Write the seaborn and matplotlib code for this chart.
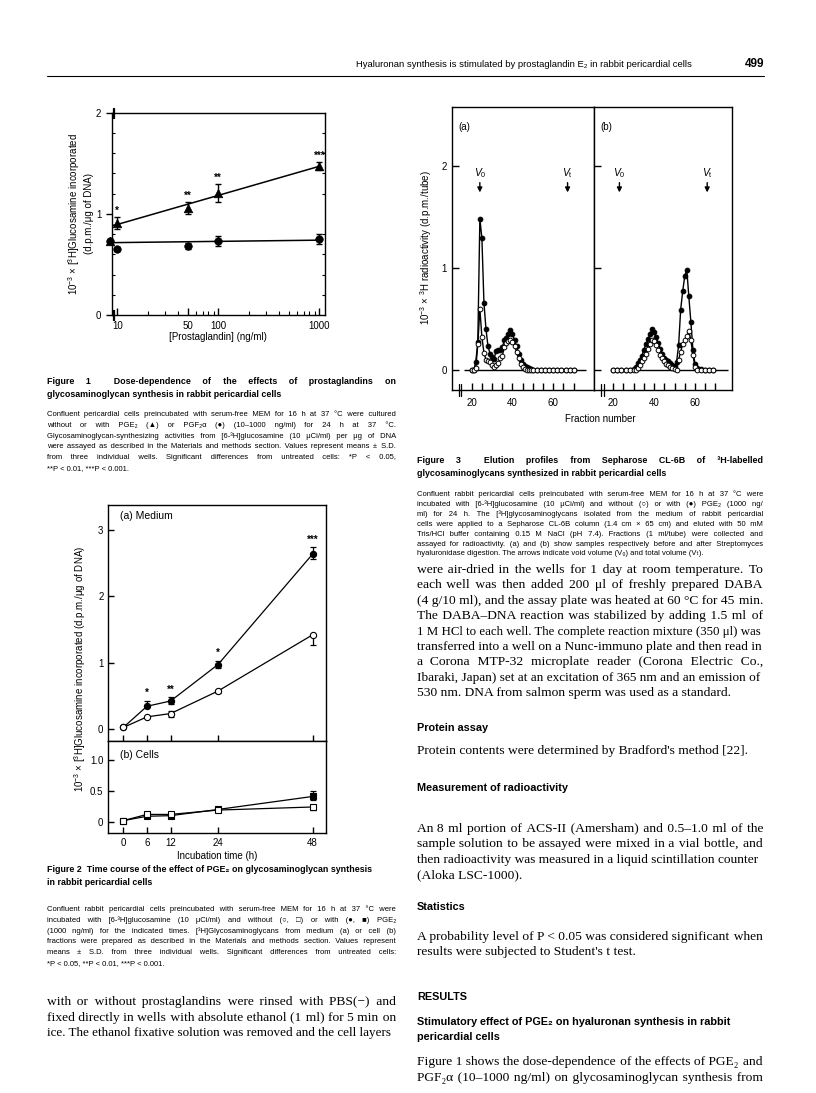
import matplotlib
matplotlib.use('Agg')
import matplotlib.pyplot as plt
from matplotlib import font_manager as fm
from matplotlib.ft2font import FT2Font
from matplotlib.ticker import FixedLocator, MultipleLocator, NullFormatter
import seaborn as sns

# ---------------- Figure 1: dose dependence ----------------
dose = [10, 50, 100, 1000]
pge2_dose = [0.91, 1.06, 1.21, 1.47]
pge2_dose_sd = [0.06, 0.06, 0.09, 0.04]
pgf2a_dose = [0.65, 0.68, 0.73, 0.75]
pgf2a_dose_sd = [0.02, 0.03, 0.05, 0.05]
dose_stars = ['*', '**', '**', '***']
untreated_x = 8.4
untreated_y = 0.73
pge2_fit_x = [8.4, 8.9, 8.9, 10, 1000]
pge2_fit_y = [0.73, 0.73, 0.885, 0.895, 1.47]
pgf2a_fit_x = [8.4, 1000]
pgf2a_fit_y = [0.715, 0.74]

# ---------------- Figure 2: time course ----------------
hours = [0, 6, 12, 24, 48]
med_pge2 = [0.02, 0.34, 0.42, 0.97, 2.64]
med_pge2_lo = [0, 0, 0.05, 0.05, 0.08]
med_pge2_hi = [0, 0.08, 0.06, 0.06, 0.10]
med_ctrl = [0.02, 0.18, 0.23, 0.57, 1.42]
med_ctrl_lo = [0, 0, 0.05, 0.03, 0.16]
med_ctrl_hi = [0, 0, 0.04, 0.02, 0]
med_stars = ['', '*', '**', '*', '***']
cell_pge2 = [0.02, 0.09, 0.10, 0.20, 0.41]
cell_pge2_lo = [0, 0, 0, 0, 0.05]
cell_pge2_hi = [0, 0.02, 0.02, 0.02, 0.08]
cell_ctrl = [0.02, 0.12, 0.12, 0.19, 0.24]
cell_ctrl_lo = [0, 0, 0.01, 0.01, 0.05]
cell_ctrl_hi = [0, 0, 0.01, 0.01, 0.03]

# ---------------- Figure 3: elution profiles ----------------
frac_a = list(range(20, 50)) + list(range(50, 71, 2))
before_pge2 = [0, 0, 0.08, 0.27, 1.48, 1.29, 0.66, 0.40, 0.23, 0.16,
               0.13, 0.11, 0.19, 0.20, 0.20, 0.22, 0.29, 0.31, 0.35, 0.39,
               0.35, 0.29, 0.23, 0.16, 0.10, 0.06, 0.04, 0.03, 0.02, 0.01,
               0, 0, 0, 0, 0, 0, 0, 0, 0, 0, 0]
before_ctrl = [0, 0, 0.02, 0.25, 0.60, 0.32, 0.17, 0.10, 0.09, 0.08,
               0.05, 0.03, 0.05, 0.07, 0.12, 0.14, 0.22, 0.26, 0.28, 0.29,
               0.27, 0.23, 0.18, 0.12, 0.06, 0.03, 0.01, 0, 0, 0,
               0, 0, 0, 0, 0, 0, 0, 0, 0, 0, 0]
frac_b = [20, 22, 24, 26, 28] + list(range(30, 62)) + [63, 65, 67, 69]
after_pge2 = [0, 0, 0, 0, 0,
              0.01, 0.03, 0.07, 0.10, 0.14, 0.20, 0.25, 0.30, 0.35, 0.40,
              0.37, 0.32, 0.26, 0.21, 0.16, 0.12, 0.10, 0.09, 0.07, 0.05,
              0.03, 0.08, 0.24, 0.59, 0.77, 0.92, 0.98, 0.72, 0.47, 0.20,
              0.06, 0.02,
              0.01, 0, 0, 0]
after_ctrl = [0, 0, 0, 0, 0,
              0, 0, 0.02, 0.05, 0.09, 0.12, 0.16, 0.21, 0.25, 0.29,
              0.28, 0.24, 0.20, 0.15, 0.12, 0.09, 0.06, 0.05, 0.03, 0.02,
              0.01, 0, 0.10, 0.18, 0.25, 0.29, 0.33, 0.38, 0.29, 0.15,
              0.03, 0,
              0, 0, 0, 0]
v0_frac = [24, 23]
vt_frac = [67, 66]

sns.set_theme(style='ticks')
SANS = ['Liberation Sans', 'DejaVu Sans']
SERIF = ['Liberation Serif', 'DejaVu Serif']
plt.rcParams['font.family'] = SANS
plt.rcParams['mathtext.fontset'] = 'custom'
plt.rcParams['mathtext.rm'] = 'Liberation Sans'
plt.rcParams['mathtext.it'] = 'Liberation Sans:italic'
plt.rcParams['mathtext.bf'] = 'Liberation Sans:bold'
plt.rcParams['axes.linewidth'] = 1.0
plt.rcParams['axes.edgecolor'] = 'black'
plt.rcParams['text.color'] = 'black'
plt.rcParams['xtick.color'] = 'black'
plt.rcParams['ytick.color'] = 'black'

W, H = 816, 1093
L0, L1 = 47, 396      # left column
R0, R1 = 417, 763     # right column
CAP = 5.5             # caption body size
CAPT = 6.4            # caption title size
BODY = 9.7            # serif body size
HEAD = 7.8            # section heading size

fig = plt.figure(figsize=(W / 100, H / 100), dpi=100)
fig.patch.set_facecolor('white')


def fx(px):
    return px / W


def fy(py):
    return 1 - py / H


def box(l, t, r, b):
    return [fx(l), fy(b), (r - l) / W, (b - t) / H]


def has_glyph(ch, families):
    for fam in families:
        try:
            path = fm.findfont(fm.FontProperties(family=fam), fallback_to_default=False)
            if FT2Font(path).get_char_index(ord(ch)):
                return True
        except Exception:
            pass
    return False


PAD = None
for ch in ['\u200a', '\u2009', '\u2006']:
    if has_glyph(ch, ['Liberation Serif', 'DejaVu Serif']) and has_glyph(ch, ['Liberation Sans', 'DejaVu Sans']):
        PAD = ch
        break
VT = 'V\u209c' if has_glyph('\u209c', SANS) else 'Vt'

renderer = fig.canvas.get_renderer()
_pad_cache = {}


def pad_width(size, family, weight):
    key = (round(size, 3), tuple(family), weight)
    if key not in _pad_cache:
        t1 = fig.text(0, 0, 'x' + PAD * 20 + 'x', fontsize=size, family=family, fontweight=weight)
        t2 = fig.text(0, 0, 'xx', fontsize=size, family=family, fontweight=weight)
        w = (t1.get_window_extent(renderer).width - t2.get_window_extent(renderer).width) / 20
        t1.remove()
        t2.remove()
        _pad_cache[key] = w
    return _pad_cache[key]


def put_line(x0, x1, base, line, justify, size, family, weight='normal'):
    t = fig.text(fx(x0), fy(base), line, fontsize=size, family=family, fontweight=weight,
                 va='baseline', ha='left')
    w0 = t.get_window_extent(renderer).width
    if w0 > x1 - x0:
        # a touch too long for the column: shrink this line slightly
        size = size * (x1 - x0) / w0 * 0.997
        t.set_fontsize(size)
        return t
    if justify and PAD and ' ' in line:
        pw = pad_width(size, family, weight)
        units = int(round((x1 - x0 - w0) / pw)) if pw > 0 else 0
        if units > 0:
            parts = line.split(' ')
            n = len(parts) - 1
            out = parts[0]
            for i in range(n):
                k = (units * (i + 1)) // n - (units * i) // n
                out += ' ' + PAD * k + parts[i + 1]
            t.set_text(out)
    return t


def put_par(x0, x1, base, step, lines, size, family, weight='normal', last_full=False):
    for i, ln in enumerate(lines):
        last = (i == len(lines) - 1) and not last_full
        put_line(x0, x1, base + i * step, ln, not last, size, family, weight)


# ---------------- running header ----------------
fig.text(fx(692), fy(67), 'Hyaluronan synthesis is stimulated by prostaglandin E₂ in rabbit pericardial cells',
         ha='right', va='baseline', fontsize=6.8, family=SANS)
fig.text(fx(764), fy(67), '499', ha='right', va='baseline', fontsize=8.5, family=SANS, fontweight='bold')
fig.add_artist(plt.Line2D([fx(47), fx(764)], [fy(76), fy(76)], color='black', lw=0.8))

# ---------------- Figure 1 ----------------
ax1 = fig.add_axes(box(111.7, 112.7, 325, 315))
ax1.set_xscale('log')
sns.lineplot(x=pge2_fit_x, y=pge2_fit_y, ax=ax1, color='black', lw=1.1, sort=False, estimator=None)
sns.lineplot(x=pgf2a_fit_x, y=pgf2a_fit_y, ax=ax1, color='black', lw=1.1, sort=False, estimator=None)
ax1.errorbar(dose, pge2_dose, yerr=pge2_dose_sd, fmt='none', ecolor='black', elinewidth=1, capsize=2.5, capthick=1)
ax1.errorbar(dose, pgf2a_dose, yerr=pgf2a_dose_sd, fmt='none', ecolor='black', elinewidth=1, capsize=2.5, capthick=1)
sns.scatterplot(x=dose, y=pge2_dose, marker='^', s=38, color='black', edgecolor='black', ax=ax1, zorder=3)
sns.scatterplot(x=dose, y=pgf2a_dose, marker='o', s=30, color='black', edgecolor='black', ax=ax1, zorder=3)
sns.scatterplot(x=[untreated_x], y=[untreated_y], marker='o', s=30, color='black', edgecolor='black',
                ax=ax1, zorder=3, clip_on=False)
sns.scatterplot(x=[untreated_x], y=[untreated_y], marker='^', s=38, color='black', edgecolor='black',
                ax=ax1, zorder=3, clip_on=False)
for d, v, e, st in zip(dose, pge2_dose, pge2_dose_sd, dose_stars):
    ax1.text(d, v + e + 0.01, st, ha='center', va='bottom', fontsize=7, fontweight='bold')
ax1.set_xlim(8.8, 1140)
ax1.set_ylim(0, 2)
ax1.xaxis.set_major_locator(FixedLocator(dose))
ax1.set_xticklabels(['10', '50', '100', '1000'])
ax1.xaxis.set_minor_locator(FixedLocator([20, 30, 40, 60, 70, 80, 90, 200, 300, 400, 500, 600, 700, 800, 900]))
ax1.xaxis.set_minor_formatter(NullFormatter())
ax1.tick_params(axis='x', which='major', direction='in', length=5, width=1, labelsize=7, pad=4)
ax1.tick_params(axis='x', which='minor', direction='in', length=3, width=0.8)
ax1.set_yticks([0, 1, 2])
ax1.set_yticklabels(['0', '1', '2'])
ax1.yaxis.set_minor_locator(MultipleLocator(0.2))
ax1.tick_params(axis='y', which='major', direction='out', length=4, width=1, labelsize=7)
ax1.tick_params(axis='y', which='minor', direction='in', length=2.5, width=0.8, right=True)
bt = ax1.get_xaxis_transform()
for xb in [9.05, 9.35]:
    ax1.plot([xb, xb], [-0.025, 0.025], transform=bt, color='black', lw=0.9, clip_on=False)
    ax1.plot([xb, xb], [0.975, 1.025], transform=bt, color='black', lw=0.9, clip_on=False)
ax1.set_xlabel('')
ax1.set_ylabel('')
fig.text(fx(80), fy(214), '10$^{-3}$ × [$^3$H]Glucosamine incorporated\n(d.p.m./μg of DNA)',
         rotation=90, ha='center', va='center', fontsize=7, multialignment='center', linespacing=1.35)
fig.text(fx(218), fy(337), '[Prostaglandin] (ng/ml)', ha='center', va='center', fontsize=7)

put_par(L0, L1, 384, 13, ['Figure 1  Dose-dependence of the effects of prostaglandins on',
                          'glycosaminoglycan synthesis in rabbit pericardial cells'], CAPT, SANS, 'bold')
put_par(L0, L1, 416, 10.8, [
    'Confluent pericardial cells preincubated with serum-free MEM for 16 h at 37 °C were cultured',
    'without or with PGE₂ (▲) or PGF₂α (●) (10–1000 ng/ml) for 24 h at 37 °C.',
    'Glycosaminoglycan-synthesizing activities from [6-³H]glucosamine (10 μCi/ml) per μg of DNA',
    'were assayed as described in the Materials and methods section. Values represent means ± S.D.',
    'from three individual wells. Significant differences from untreated cells: *P < 0.05,',
    '**P < 0.01, ***P < 0.001.'], CAP, SANS)

# ---------------- Figure 2 ----------------
ax2a = fig.add_axes(box(108.3, 505, 325.7, 740.7))
ax2b = fig.add_axes(box(108.3, 740.7, 325.7, 833))


def err_bars(ax, x, y, lo, hi):
    idx = [i for i in range(len(x)) if lo[i] + hi[i] > 0]
    ax.errorbar([x[i] for i in idx], [y[i] for i in idx],
                yerr=[[lo[i] for i in idx], [hi[i] for i in idx]],
                fmt='none', ecolor='black', elinewidth=0.9, capsize=2.2, capthick=0.9, zorder=2)


err_bars(ax2a, hours, med_pge2, med_pge2_lo, med_pge2_hi)
err_bars(ax2a, hours, med_ctrl, med_ctrl_lo, med_ctrl_hi)
sns.lineplot(x=hours, y=med_pge2, ax=ax2a, color='black', lw=0.9, marker='o', markersize=4.5,
             markerfacecolor='black', markeredgecolor='black', mew=0.8)
sns.lineplot(x=hours, y=med_ctrl, ax=ax2a, color='black', lw=0.9, marker='o', markersize=4.5,
             markerfacecolor='white', markeredgecolor='black', mew=0.8)
for h, v, e, st in zip(hours, med_pge2, med_pge2_hi, med_stars):
    if st:
        ax2a.text(h, v + e + 0.04, st, ha='center', va='bottom', fontsize=7, fontweight='bold')

err_bars(ax2b, hours, cell_pge2, cell_pge2_lo, cell_pge2_hi)
err_bars(ax2b, hours, cell_ctrl, cell_ctrl_lo, cell_ctrl_hi)
sns.lineplot(x=hours, y=cell_pge2, ax=ax2b, color='black', lw=0.9, marker='s', markersize=4,
             markerfacecolor='black', markeredgecolor='black', mew=0.8)
sns.lineplot(x=hours, y=cell_ctrl, ax=ax2b, color='black', lw=0.9, marker='s', markersize=4,
             markerfacecolor='white', markeredgecolor='black', mew=0.8)

for ax in (ax2a, ax2b):
    ax.set_xlim(-3.8, 51.3)
    ax.set_xticks(hours)
    ax.tick_params(axis='both', direction='in', length=4, width=1, labelsize=7)
    ax.set_xlabel('')
    ax.set_ylabel('')
ax2a.set_ylim(-0.18, 3.38)
ax2a.set_yticks([0, 1, 2, 3])
ax2a.set_xticklabels([])
ax2b.set_ylim(-0.18, 1.31)
ax2b.set_yticks([0, 0.5, 1.0])
ax2b.set_yticklabels(['0', '0.5', '1.0'])
ax2b.set_xticklabels([str(h) for h in hours])
ax2a.text(0.054, 0.955, '(a) Medium', transform=ax2a.transAxes, ha='left', va='center', fontsize=7.5)
ax2b.text(0.054, 0.85, '(b) Cells', transform=ax2b.transAxes, ha='left', va='center', fontsize=7.5)
fig.text(fx(80), fy(669), '10$^{-3}$ × [$^3$H]Glucosamine incorporated (d.p.m./μg of DNA)',
         rotation=90, ha='center', va='center', fontsize=7)
fig.text(fx(217), fy(856), 'Incubation time (h)', ha='center', va='center', fontsize=7)

put_line(L0, L1, 872, 'Figure 2  Time course of the effect of PGE₂ on glycosaminoglycan synthesis',
         False, CAPT, SANS, 'bold')
put_line(L0, L1, 885, 'in rabbit pericardial cells', False, CAPT, SANS, 'bold')
put_par(L0, L1, 911, 10.8, [
    'Confluent rabbit pericardial cells preincubated with serum-free MEM for 16 h at 37 °C were',
    'incubated with [6-³H]glucosamine (10 μCi/ml) and without (○, □) or with (●, ■) PGE₂',
    '(1000 ng/ml) for the indicated times. [³H]Glycosaminoglycans from medium (a) or cell (b)',
    'fractions were prepared as described in the Materials and methods section. Values represent',
    'means ± S.D. from three individual wells. Significant differences from untreated cells:',
    '*P < 0.05, **P < 0.01, ***P < 0.001.'], CAP, SANS)

put_par(L0, L1, 1005, 15.5, [
    'with or without prostaglandins were rinsed with PBS(−) and',
    'fixed directly in wells with absolute ethanol (1 ml) for 5 min on',
    'ice. The ethanol fixative solution was removed and the cell layers'], BODY, SERIF, last_full=True)

# ---------------- Figure 3 ----------------
ax3a = fig.add_axes(box(451.7, 107.3, 594.3, 390))
ax3b = fig.add_axes(box(594.3, 107.3, 731.7, 390))
panels = [(ax3a, frac_a, before_pge2, before_ctrl, '(a)', (10.2, 80.1), (16, 76), [13.6, 15.0]),
          (ax3b, frac_b, after_pge2, after_ctrl, '(b)', (10.7, 78.0), (19, 76), [14.0, 15.4])]
for i, (ax, fr, filled, hollow, lab, xl, base, brk) in enumerate(panels):
    ax.hlines(0, base[0], base[1], color='black', lw=1.0, zorder=1)
    sns.lineplot(x=fr, y=filled, ax=ax, color='black', lw=1.0, marker='o', markersize=3.4,
                 markerfacecolor='black', markeredgecolor='black', mew=0.7, zorder=3)
    sns.lineplot(x=fr, y=hollow, ax=ax, color='black', lw=1.0, marker='o', markersize=3.4,
                 markerfacecolor='white', markeredgecolor='black', mew=0.7, zorder=4)
    ax.set_xlim(*xl)
    ax.set_ylim(-0.196, 2.57)
    ax.set_xticks(list(range(20, 71, 5)))
    ax.set_xticklabels(['20', '', '', '', '40', '', '', '', '60', '', ''])
    ax.set_yticks([0, 1, 2])
    ax.tick_params(axis='both', direction='in', length=5, width=1, labelsize=7)
    ax.tick_params(axis='x', pad=6)
    ax.set_xlabel('')
    ax.set_ylabel('')
    ax.text(0.045, 0.93, lab, transform=ax.transAxes, ha='left', va='center', fontsize=7)
    tr = ax.get_xaxis_transform()
    for xb in brk:
        ax.plot([xb, xb], [-0.02, 0.02], transform=tr, color='black', lw=0.9, clip_on=False)
    ax.annotate('', xy=(v0_frac[i], 1.71), xytext=(v0_frac[i], 1.86),
                arrowprops=dict(arrowstyle='-|>', color='black', lw=1.0, mutation_scale=7))
    ax.annotate('', xy=(vt_frac[i], 1.71), xytext=(vt_frac[i], 1.86),
                arrowprops=dict(arrowstyle='-|>', color='black', lw=1.0, mutation_scale=7))
    ax.text(v0_frac[i], 1.93, '$V_0$', ha='center', va='center', fontsize=7.5)
    ax.text(vt_frac[i], 1.93, '$V_\\mathrm{t}$', ha='center', va='center', fontsize=7.5)
ax3b.set_yticklabels([])
fig.text(fx(426), fy(248), '10$^{-3}$ × $^3$H radioactivity (d.p.m./tube)', rotation=90,
         ha='center', va='center', fontsize=7)
fig.text(fx(600), fy(419), 'Fraction number', ha='center', va='center', fontsize=7)

put_par(R0, R1, 463, 13, ['Figure 3  Elution profiles from Sepharose CL-6B of ³H-labelled',
                          'glycosaminoglycans synthesized in rabbit pericardial cells'], CAPT, SANS, 'bold')
put_par(R0, R1, 496, 9.9, [
    'Confluent rabbit pericardial cells preincubated with serum-free MEM for 16 h at 37 °C were',
    'incubated with [6-³H]glucosamine (10 μCi/ml) and without (○) or with (●) PGE₂ (1000 ng/',
    'ml) for 24 h. The [³H]glycosaminoglycans isolated from the medium of rabbit pericardial',
    'cells were applied to a Sepharose CL-6B column (1.4 cm × 65 cm) and eluted with 50 mM',
    'Tris/HCl buffer containing 0.15 M NaCl (pH 7.4). Fractions (1 ml/tube) were collected and',
    'assayed for radioactivity. (a) and (b) show samples respectively before and after Streptomyces',
    'hyaluronidase digestion. The arrows indicate void volume (V₀) and total volume (' + VT + ').'],
    CAP, SANS)

# ---------------- right column body text ----------------
put_par(R0, R1, 573, 15.4, [
    'were air-dried in the wells for 1 day at room temperature. To',
    'each well was then added 200 μl of freshly prepared DABA',
    '(4 g/10 ml), and the assay plate was heated at 60 °C for 45 min.',
    'The DABA–DNA reaction was stabilized by adding 1.5 ml of',
    '1 M HCl to each well. The complete reaction mixture (350 μl) was',
    'transferred into a well on a Nunc-immuno plate and then read in',
    'a Corona MTP-32 microplate reader (Corona Electric Co.,',
    'Ibaraki, Japan) set at an excitation of 365 nm and an emission of',
    '530 nm. DNA from salmon sperm was used as a standard.'], BODY, SERIF)
put_line(R0, R1, 731, 'Protein assay', False, HEAD, SANS, 'bold')
put_line(R0, R1, 754, "Protein contents were determined by Bradford's method [22].", False, BODY, SERIF)
put_line(R0, R1, 791, 'Measurement of radioactivity', False, HEAD, SANS, 'bold')
put_par(R0, R1, 832, 15.5, [
    'An 8 ml portion of ACS-II (Amersham) and 0.5–1.0 ml of the',
    'sample solution to be assayed were mixed in a vial bottle, and',
    'then radioactivity was measured in a liquid scintillation counter',
    '(Aloka LSC-1000).'], BODY, SERIF)
put_line(R0, R1, 910, 'Statistics', False, HEAD, SANS, 'bold')
put_par(R0, R1, 940, 15.5, [
    'A probability level of P < 0.05 was considered significant when',
    "results were subjected to Student's t test."], BODY, SERIF)
put_line(R0, R1, 1000, 'RESULTS', False, HEAD, SANS, 'bold')
put_line(R0, R1, 1025, 'Stimulatory effect of PGE₂ on hyaluronan synthesis in rabbit', False, HEAD, SANS, 'bold')
put_line(R0, R1, 1039.5, 'pericardial cells', False, HEAD, SANS, 'bold')
put_par(R0, R1, 1065, 15.5, [
    'Figure 1 shows the dose-dependence of the effects of PGE₂ and',
    'PGF₂α (10–1000 ng/ml) on glycosaminoglycan synthesis from'], BODY, SERIF, last_full=True)

fig.savefig('out.png', dpi=100, facecolor='white')
